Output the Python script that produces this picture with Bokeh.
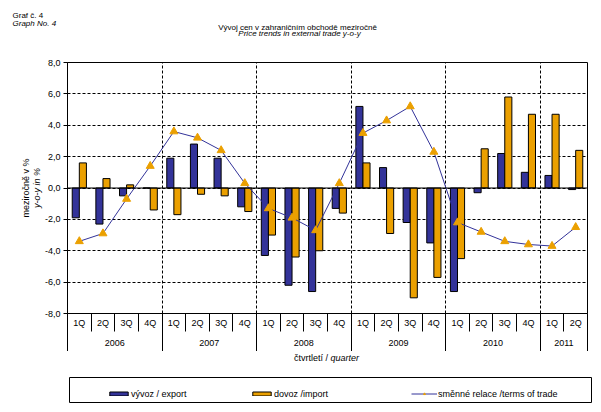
from bokeh.plotting import figure
from bokeh.models import (ColumnDataSource, Range1d, LinearAxis, FixedTicker, Label,
                          Span, Legend, LegendItem, Grid, Title)
from bokeh.layouts import column
from bokeh.embed import file_html
from bokeh.resources import INLINE

# ---------------- data ----------------
years = ["2006", "2007", "2008", "2009", "2010", "2011"]
year_quarters = [4, 4, 4, 4, 4, 2]
quarters = ["1Q", "2Q", "3Q", "4Q"] * 5 + ["1Q", "2Q"]
export = [-1.9, -2.3, -0.5, 0.0,
          1.9, 2.8, 1.9, -1.2,
          -4.3, -6.2, -6.6, -1.3,
          5.2, 1.3, -2.2, -3.5,
          -6.6, -0.3, 2.2, 1.0,
          0.8, -0.1]
imports = [1.6, 0.6, 0.2, -1.4,
           -1.7, -0.4, -0.5, -1.5,
           -3.0, -4.4, -4.0, -1.6,
           1.6, -2.9, -7.0, -5.7,
           -4.5, 2.5, 5.8, 4.7,
           4.7, 2.4]
terms = [-3.4, -2.9, -0.7, 1.4,
         3.6, 3.2, 2.4, 0.3,
         -1.3, -1.9, -2.7, 0.3,
         3.5, 4.3, 5.2, 2.3,
         -2.2, -2.8, -3.4, -3.6,
         -3.7, -2.5]
y_ticks = [-8, -6, -4, -2, 0, 2, 4, 6, 8]

FONT = "Liberation Sans"
EXPORT_COLOR = "#333399"
IMPORT_COLOR = "#EBA000"
LINE_COLOR = "#333399"
W = 601

n = len(quarters)
centers = [i + 0.5 for i in range(n)]
BAR_W = 0.3

src = ColumnDataSource(dict(
    x=centers,
    xe=[c - BAR_W / 2 for c in centers],
    xi=[c + BAR_W / 2 for c in centers],
    export=export, imports=imports, terms=terms))

bounds = [0]
for q in year_quarters:
    bounds.append(bounds[-1] + q)
year_centers = [(a + b) / 2 for a, b in zip(bounds[:-1], bounds[1:])]


def text_strip(top, bottom):
    """A borderless figure whose data units are page pixels."""
    f = figure(width=W, height=bottom - top, x_range=Range1d(0, W),
               y_range=Range1d(bottom, top), x_axis_type=None, y_axis_type=None,
               output_backend="svg", toolbar_location=None,
               min_border_left=0, min_border_right=0, min_border_top=0,
               min_border_bottom=0)
    f.frame_align = False
    f.outline_line_color = None
    f.xgrid.visible = False
    f.ygrid.visible = False
    if f.title is not None:
        f.title.visible = False
    return f


def add_text(f, text, x, y, size="8px", style="normal", align="left",
             baseline="alphabetic"):
    f.add_layout(Label(x=x, y=y, text=text, text_font=FONT, text_font_size=size,
                       text_font_style=style, text_align=align,
                       text_baseline=baseline, text_color="black"))


# ---------------- title strip ----------------
pt = text_strip(0, 48)
add_text(pt, "Graf č. 4", 12, 15)
add_text(pt, "Graph No. 4", 12, 23, style="italic")
add_text(pt, "Vývoj cen v zahraničním obchodě meziročně", 297, 26.5, align="center")
add_text(pt, "Price trends in external trade y-o-y", 299, 33, style="italic",
         align="center")

# ---------------- main figure ----------------
p = figure(width=W, height=303, x_range=Range1d(0, n), y_range=Range1d(-8, 8),
           x_axis_type=None, y_axis_type=None, output_backend="svg",
           toolbar_location=None, min_border_left=67, min_border_right=14,
           min_border_top=14, min_border_bottom=38)
p.frame_align = False
if p.title is not None:
    p.title.visible = False
p.outline_line_color = "black"
p.outline_line_alpha = 1.0
p.outline_line_width = 1
p.background_fill_color = "white"
p.border_fill_color = "white"

hgrid = Grid(dimension=1, ticker=FixedTicker(ticks=[t for t in y_ticks if abs(t) < 8]),
             grid_line_color="black", grid_line_dash="3 2", grid_line_width=1)
vgrid = Grid(dimension=0, ticker=FixedTicker(ticks=bounds[1:-1]),
             grid_line_color="black", grid_line_dash="3 2", grid_line_width=1)
p.add_layout(hgrid)
p.add_layout(vgrid)

p.vbar(x="xe", top="export", bottom=0, width=BAR_W, source=src,
       fill_color=EXPORT_COLOR, line_color="black", line_width=1)
p.vbar(x="xi", top="imports", bottom=0, width=BAR_W, source=src,
       fill_color=IMPORT_COLOR, line_color="black", line_width=1)
p.add_layout(Span(location=0, dimension="width", line_color="black", line_width=1))
p.line(x="x", y="terms", source=src, line_color=LINE_COLOR, line_width=1)
p.scatter(x="x", y="terms", source=src, marker="triangle", size=8,
          fill_color=IMPORT_COLOR, line_color=IMPORT_COLOR)

yaxis = LinearAxis(ticker=FixedTicker(ticks=y_ticks, minor_ticks=[]),
                   major_label_overrides={t: f"{t:.1f}".replace(".", ",") for t in y_ticks},
                   major_tick_out=4, major_tick_in=0, minor_tick_out=0, minor_tick_in=0,
                   major_label_standoff=3, axis_line_color="black",
                   major_tick_line_color="black",
                   major_label_text_font=FONT, major_label_text_font_size="9px",
                   major_label_text_color="black")
p.add_layout(yaxis, "left")
p.add_layout(Title(text="y-o-y in %", align="center", vertical_align="middle",
                   text_font=FONT, text_font_size="9px", text_font_style="italic",
                   text_color="black", standoff=-2), "left")
p.add_layout(Title(text="meziročně v %", align="center", vertical_align="middle",
                   text_font=FONT, text_font_size="9px", text_font_style="normal",
                   text_color="black", standoff=0), "left")

xaxis1 = LinearAxis(ticker=FixedTicker(ticks=centers, minor_ticks=list(range(n + 1))),
                    major_label_overrides={c: q for c, q in zip(centers, quarters)},
                    major_tick_out=0, major_tick_in=0, minor_tick_out=18, minor_tick_in=0,
                    minor_tick_line_color="black", major_label_standoff=-14,
                    axis_line_color="black",
                    major_label_text_font=FONT, major_label_text_font_size="9px",
                    major_label_text_color="black")
p.add_layout(xaxis1, "below")

xaxis2 = LinearAxis(ticker=FixedTicker(ticks=year_centers, minor_ticks=bounds),
                    major_label_overrides={c: y for c, y in zip(year_centers, years)},
                    major_tick_out=0, major_tick_in=0, minor_tick_out=22, minor_tick_in=0,
                    minor_tick_line_color="black", major_label_standoff=-13,
                    axis_line_color=None,
                    major_label_text_font=FONT, major_label_text_font_size="9px",
                    major_label_text_color="black")
p.add_layout(xaxis2, "below")

# ---------------- axis title strip ----------------
pq = text_strip(351, 368)
add_text(pq, "čtvrtletí / ", 330, 357, size="9px", align="right", baseline="middle")
add_text(pq, "quarter", 330, 357, size="9px", style="italic", baseline="middle")

# ---------------- legend figure ----------------
p2 = figure(width=W, height=36, x_range=Range1d(0, 1), y_range=Range1d(-8, 8),
            x_axis_type=None, y_axis_type=None, output_backend="svg",
            toolbar_location=None, min_border_left=69, min_border_right=10,
            min_border_top=9, min_border_bottom=2)
p2.frame_align = False
if p2.title is not None:
    p2.title.visible = False
p2.outline_line_color = "black"
p2.outline_line_alpha = 1.0
p2.xgrid.visible = False
p2.ygrid.visible = False

r_exp = p2.vbar(x="xe", top="export", width=BAR_W, source=src, visible=False,
                fill_color=EXPORT_COLOR, line_color="black", line_width=1)
r_imp = p2.vbar(x="xi", top="imports", width=BAR_W, source=src, visible=False,
                fill_color=IMPORT_COLOR, line_color="black", line_width=1)
r_line = p2.line(x="x", y="terms", source=src, visible=False,
                 line_color=LINE_COLOR, line_width=1)
r_tri = p2.scatter(x="x", y="terms", source=src, marker="triangle", size=8,
                   visible=False, fill_color=IMPORT_COLOR, line_color=IMPORT_COLOR)


def add_legend(label, renderers, loc, gw):
    lg = Legend(items=[LegendItem(label=label, renderers=renderers)],
                location=loc, orientation="horizontal", padding=0, margin=0,
                border_line_color=None, background_fill_alpha=0,
                inactive_fill_alpha=0,
                glyph_width=gw, glyph_height=5, label_standoff=1,
                label_text_font=FONT, label_text_font_size="9px",
                label_text_color="black", label_height=11)
    p2.add_layout(lg)


add_legend("vývoz / export", [r_exp], (38, 3), 23)
add_legend("dovoz /import", [r_imp], (181, 3), 23)
add_legend("směnné relace /terms of trade", [r_line, r_tri], (342, 3), 26)

layout = column(pt, p, pq, p2, spacing=0)
open("out.html", "w").write(file_html(layout, INLINE))
